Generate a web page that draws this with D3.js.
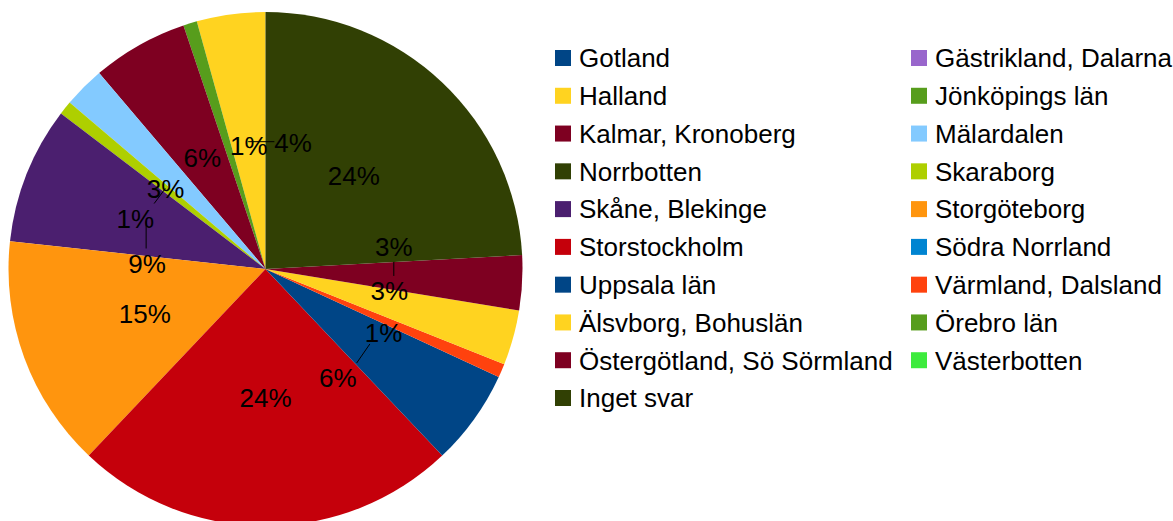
<!DOCTYPE html>
<html>
<head>
<meta charset="utf-8">
<script src="https://cdn.jsdelivr.net/npm/d3@7"></script>
<style>
  body { margin: 0; background: #fff; }
  svg { display: block; font-family: "Liberation Sans", Arial, sans-serif; }
</style>
</head>
<body>
<div class="render"></div>
<script>
"use strict";

// regions, in legend order (pie runs counter-clockwise from 12 o'clock)
var regions = ["Gotland", "Gästrikland, Dalarna", "Halland", "Jönköpings län",
   "Kalmar, Kronoberg", "Mälardalen", "Norrbotten", "Skaraborg",
   "Skåne, Blekinge", "Storgöteborg", "Storstockholm", "Södra Norrland",
   "Uppsala län", "Värmland, Dalsland", "Älsvborg, Bohuslän", "Örebro län",
   "Östergötland, Sö Sörmland", "Västerbotten", "Inget svar"];

// answers per region
var counts = [0, 0, 5, 1, 7, 3, 0, 1, 10, 17, 28, 0, 7, 1, 4, 0, 4, 0, 28];

var colors = ["#004586", "#9966cc", "#ffd320", "#579d1c", "#7e0021", "#83caff",
   "#314004", "#aecf00", "#4b1f6f", "#ff950e", "#c5000b", "#0084d1",
   "#004586", "#ff420e", "#ffd320", "#579d1c", "#7e0021", "#3deb3d", "#314004"];

// labels that had to be pushed aside so they don't collide (px)
var labelNudge = {
   "Halland": [45, 1],
   "Jönköpings län": [21, -1],
   "Mälardalen": [-9, 10],
   "Skaraborg": [-30, 30],
   "Skåne, Blekinge": [1, 42],
   "Uppsala län": [-32, 34],
   "Värmland, Dalsland": [0, 13],
   "Älsvborg, Bohuslän": [0, -13],
   "Östergötland, Sö Sörmland": [0, -29]
};

var w = 1173;
var h = 521;
var cx = 265.5, cy = 269, r = 257;
var fontSize = 26;

var data = regions.map(function (d, i) {
   return { name: d, value: counts[i], color: colors[i] };
});
var total = d3.sum(counts);

var svg = d3.select(".render").append("svg").attr("width", w).attr("height", h);

var pie = d3.pie().sort(null).value(function (d) { return d.value; })
   .startAngle(0).endAngle(-2 * Math.PI);
var arc = d3.arc().innerRadius(0).outerRadius(r);
var labelArc = d3.arc().innerRadius(r / 2).outerRadius(r / 2);

var arcs = pie(data);
var g = svg.append("g").attr("transform", "translate(" + cx + "," + cy + ")");

g.selectAll("path.slice").data(arcs).enter().append("path")
   .attr("class", "slice")
   .attr("d", arc)
   .attr("fill", function (d) { return d.data.color; });

// labels
var labelled = arcs.filter(function (d) { return d.value > 0; });
var tw = fontSize * 1.445, th = fontSize * 1.15;

labelled.forEach(function (d) {
   var p = labelArc.centroid(d);
   var n = labelNudge[d.data.name] || [0, 0];
   var lx = p[0] + n[0], ly = p[1] + n[1];
   // leader line from anchor to nearest point of the label box
   var nx = Math.max(lx - tw / 2, Math.min(p[0], lx + tw / 2));
   var ny = Math.max(ly - th / 2, Math.min(p[1], ly + th / 2));
   if (Math.hypot(nx - p[0], ny - p[1]) > 4) {
      g.append("line")
         .attr("x1", p[0]).attr("y1", p[1]).attr("x2", nx).attr("y2", ny)
         .attr("stroke", "#000").attr("stroke-width", 1);
   }
   g.append("text")
      .attr("x", lx).attr("y", ly).attr("dy", "0.36em")
      .attr("text-anchor", "middle")
      .style("font-size", fontSize + "px")
      .attr("fill", "#000")
      .text(Math.round(d.value / total * 100) + "%");
});

// legend, two columns filled row by row
var legend = svg.append("g");
var colX = [555, 911];
var rowY = d3.scaleLinear().domain([0, 9]).range([58, 398]);

var item = legend.selectAll("g.item").data(data).enter().append("g")
   .attr("class", "item")
   .attr("transform", function (d, i) {
      return "translate(" + colX[i % 2] + "," + rowY(Math.floor(i / 2)) + ")";
   });

item.append("rect")
   .attr("x", 0).attr("y", -8).attr("width", 16).attr("height", 16)
   .attr("fill", function (d) { return d.color; });

item.append("text")
   .attr("x", 24).attr("y", 0).attr("dy", "0.36em")
   .style("font-size", fontSize + "px")
   .attr("fill", "#000")
   .text(function (d) { return d.name; });
</script>
</body>
</html>
